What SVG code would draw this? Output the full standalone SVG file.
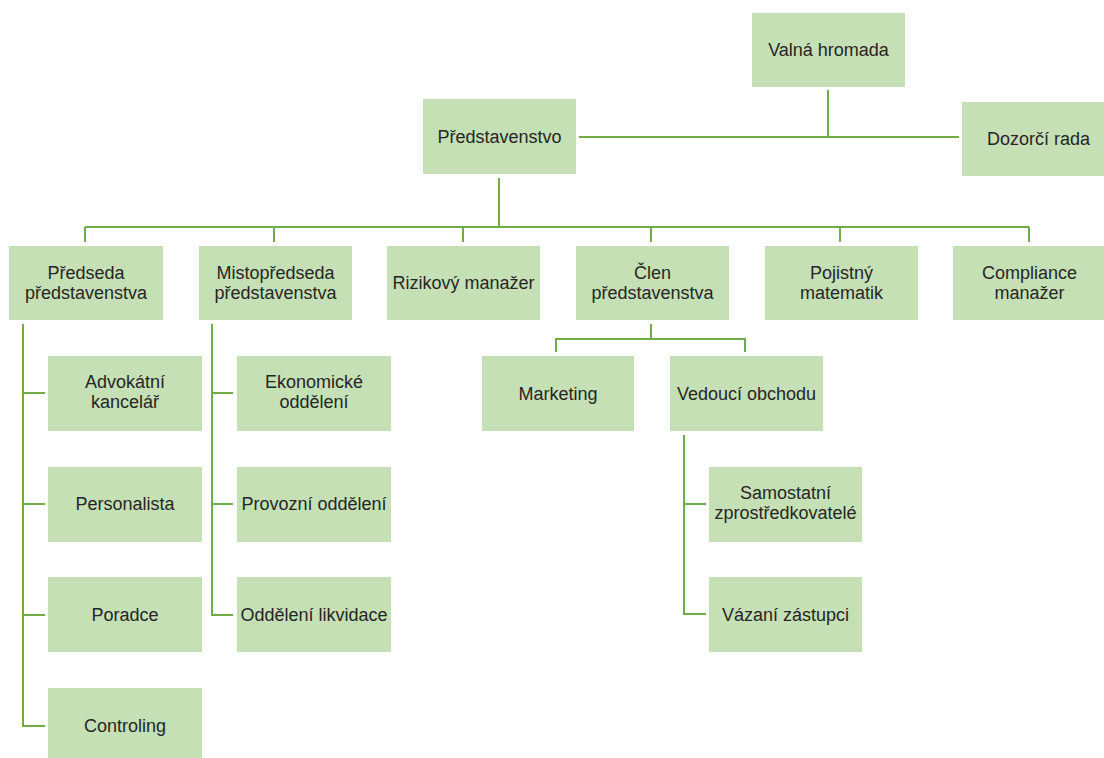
<svg xmlns="http://www.w3.org/2000/svg" width="1104" height="758" viewBox="0 0 1104 758">
<style>
.box{fill:#C5E0B4}
.t{font-family:"Liberation Sans",Arial,sans-serif;font-size:18px;fill:#262626;text-anchor:middle}
.ln{fill:none;stroke:#70AD47;stroke-width:2}
</style>
<rect width="1104" height="758" fill="#ffffff"/>
<g id="connectors">
<path class="ln" d="M828 90V137M579 137H959"/>
<path class="ln" d="M499 178V227M85 227H1029M85 227V242M274 227V242M463 227V242M651 227V242M840 227V242M1029 227V242"/>
<path class="ln" d="M23 324V726H45M23 393H45M23 504H45M23 615H45"/>
<path class="ln" d="M212 324V615H233M212 393H233M212 504H233"/>
<path class="ln" d="M651 324V339M556 352V339H745V352"/>
<path class="ln" d="M684 435V614H706M684 504H706"/>
</g>
<g id="valna-hromada"><rect class="box" x="752" y="13" width="153" height="74"/><text class="t" x="828.5" y="56">Valná hromada</text></g>
<g id="predstavenstvo"><rect class="box" x="423" y="99" width="153" height="75"/><text class="t" x="499.5" y="143">Představenstvo</text></g>
<g id="dozorci-rada"><rect class="box" x="962" y="102" width="153" height="74"/><text class="t" x="1038.5" y="145">Dozorčí rada</text></g>
<g id="predseda"><rect class="box" x="9" y="246" width="154" height="74"/><text class="t" x="86" y="279">Předseda</text><text class="t" x="86" y="299">představenstva</text></g>
<g id="mistopredseda"><rect class="box" x="199" y="246" width="153" height="74"/><text class="t" x="275.5" y="279">Mistopředseda</text><text class="t" x="275.5" y="299">představenstva</text></g>
<g id="rizikovy-manazer"><rect class="box" x="387" y="246" width="153" height="74"/><text class="t" x="463.5" y="289">Rizikový manažer</text></g>
<g id="clen"><rect class="box" x="576" y="246" width="153" height="74"/><text class="t" x="652.5" y="279">Člen</text><text class="t" x="652.5" y="299">představenstva</text></g>
<g id="pojistny-matematik"><rect class="box" x="765" y="246" width="153" height="74"/><text class="t" x="841.5" y="279">Pojistný</text><text class="t" x="841.5" y="299">matematik</text></g>
<g id="compliance-manazer"><rect class="box" x="953" y="246" width="153" height="74"/><text class="t" x="1029.5" y="279">Compliance</text><text class="t" x="1029.5" y="299">manažer</text></g>
<g id="advokatni-kancelar"><rect class="box" x="48" y="356" width="154" height="75"/><text class="t" x="125" y="388">Advokátní</text><text class="t" x="125" y="408">kancelář</text></g>
<g id="personalista"><rect class="box" x="48" y="467" width="154" height="75"/><text class="t" x="125" y="510">Personalista</text></g>
<g id="poradce"><rect class="box" x="48" y="577" width="154" height="75"/><text class="t" x="125" y="621">Poradce</text></g>
<g id="controling"><rect class="box" x="48" y="688" width="154" height="75"/><text class="t" x="125" y="732">Controling</text></g>
<g id="ekonomicke-oddeleni"><rect class="box" x="237" y="356" width="154" height="75"/><text class="t" x="314" y="388">Ekonomické</text><text class="t" x="314" y="408">oddělení</text></g>
<g id="provozni-oddeleni"><rect class="box" x="237" y="467" width="154" height="75"/><text class="t" x="314" y="510">Provozní oddělení</text></g>
<g id="oddeleni-likvidace"><rect class="box" x="237" y="577" width="154" height="75"/><text class="t" x="314" y="621">Oddělení likvidace</text></g>
<g id="marketing"><rect class="box" x="482" y="356" width="152" height="75"/><text class="t" x="558" y="400">Marketing</text></g>
<g id="vedouci-obchodu"><rect class="box" x="670" y="356" width="153" height="75"/><text class="t" x="746.5" y="400">Vedoucí obchodu</text></g>
<g id="samostatni-zprostredkovatele"><rect class="box" x="709" y="467" width="153" height="75"/><text class="t" x="785.5" y="499">Samostatní</text><text class="t" x="785.5" y="519">zprostředkovatelé</text></g>
<g id="vazani-zastupci"><rect class="box" x="709" y="577" width="153" height="75"/><text class="t" x="785.5" y="621">Vázaní zástupci</text></g>
</svg>
